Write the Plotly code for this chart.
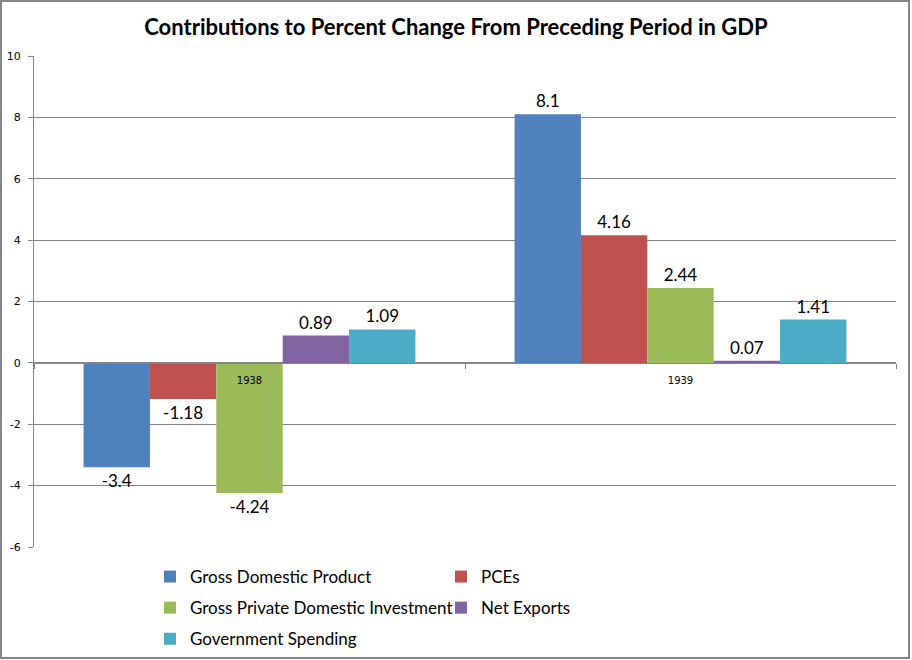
import plotly.graph_objects as go

# data
years = ["1938", "1939"]
series_names = ["Gross Domestic Product", "PCEs", "Gross Private Domestic Investment",
                "Net Exports", "Government Spending"]
gdp = [-3.4, 8.1]
pces = [-1.18, 4.16]
investment = [-4.24, 2.44]
net_exports = [0.89, 0.07]
gov_spending = [1.09, 1.41]
y_ticks = [-6, -4, -2, 0, 2, 4, 6, 8, 10]
y_tick_labels = ["-6", "-4", "-2", "0", "2", "4", "6", "8", "10"]

colors = ["#4F81BD", "#C0504D", "#9BBB59", "#8064A2", "#4BACC6"]
legend_for = ["legend", "legend2", "legend", "legend2", "legend"]

W, H = 912, 660
m_l, m_r, m_t, m_b = 34, 16, 56, 0
plot_w = W - m_l - m_r
paper_h = H - m_t - m_b
plot_bottom_px = 547
d0 = (H - m_b - plot_bottom_px) / paper_h   # bottom of the y domain
y_min, y_max = -6, 10


def px_x(px):
    return (px - m_l) / plot_w


def px_y(py):
    return (H - m_b - py) / paper_h


fig = go.Figure()

for name, vals, col, lg in zip(series_names,
                               [gdp, pces, investment, net_exports, gov_spending],
                               colors, legend_for):
    fig.add_trace(go.Bar(
        x=years, y=vals, name=name,
        marker=dict(color=col, line_width=0),
        text=[str(v) for v in vals],
        textposition="outside",
        textfont=dict(family="Lato", size=17, color="black"),
        cliponaxis=False,
        legend=lg,
        legendgroup=name,
    ))

legend_font = dict(family="Lato", size=17, color="black")
axis_font = dict(family="DejaVu Sans", size=11, color="black")

fig.update_layout(
    width=W, height=H,
    margin=dict(l=m_l, r=m_r, t=m_t, b=m_b, autoexpand=False),
    paper_bgcolor="white",
    plot_bgcolor="white",
    barmode="group",
    bargap=0.23,
    bargroupgap=0,
    title=dict(
        text="<b>Contributions to Percent Change From Preceding Period in GDP</b>",
        font=dict(family="Lato", size=22, color="black"),
        x=0.5, xanchor="center",
        yref="container", y=1 - 27 / H, yanchor="middle",
    ),
    xaxis=dict(
        anchor="free",
        position=d0 + (0 - y_min) / (y_max - y_min) * (1 - d0),
        showline=True, linecolor="#868686", linewidth=1,
        ticks="outside", ticklen=5, tickcolor="#868686",
        tickson="boundaries",
        ticklabelstandoff=8,
        showgrid=False,
        tickfont=dict(family="DejaVu Sans", size=10, color="black"),
    ),
    yaxis=dict(
        domain=[d0, 1],
        range=[y_min, y_max],
        tickmode="array", tickvals=y_ticks, ticktext=y_tick_labels,
        showline=True, linecolor="#868686", linewidth=1,
        ticks="outside", ticklen=5, tickcolor="#868686",
        ticklabelstandoff=5,
        showgrid=True, gridcolor="#868686", gridwidth=1,
        zeroline=True, zerolinecolor="#868686", zerolinewidth=1,
        tickfont=axis_font,
    ),
    legend=dict(
        x=px_x(150), xanchor="left",
        y=px_y(559), yanchor="top",
        font=legend_font, tracegroupgap=6, bgcolor="rgba(0,0,0,0)",
    ),
    legend2=dict(
        x=px_x(441), xanchor="left",
        y=px_y(559), yanchor="top",
        font=legend_font, tracegroupgap=6, bgcolor="rgba(0,0,0,0)",
    ),
    showlegend=True,
)

# thin grey frame round the whole chart
fig.add_shape(
    type="rect", xref="paper", yref="paper",
    x0=px_x(1), x1=px_x(909),
    y0=px_y(658), y1=px_y(1),
    line=dict(color="#868686", width=2), fillcolor="rgba(0,0,0,0)",
    layer="above",
)

fig.write_html("out.html", config={"displayModeBar": False},
               post_script="document.body.style.margin='0';")
